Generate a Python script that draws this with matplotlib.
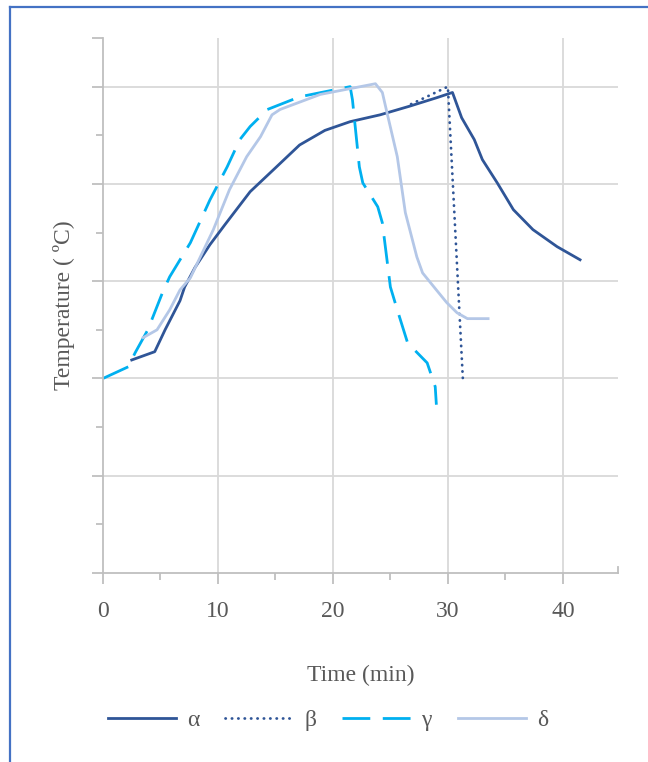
import matplotlib
matplotlib.use("Agg")
import matplotlib.pyplot as plt
from matplotlib.lines import Line2D

plt.rcParams['font.family'] = ['Liberation Serif', 'DejaVu Serif']

# time (min) / temperature (arbitrary units, no labels on y axis)
alpha_t = [2.5, 4.5, 5.4, 6.7, 7.1, 8.0, 9.3, 10.6, 12.8, 15.0, 17.1, 19.3, 21.5,
           24.1, 26.7, 29.0, 30.4, 31.2, 32.3, 33.0, 34.3, 35.7, 37.4, 39.5, 41.5]
alpha_y = [43.8, 45.5, 50.0, 56.0, 58.8, 62.8, 67.5, 71.6, 78.4, 83.3, 88.0, 91.0, 92.8,
           94.2, 96.0, 97.7, 98.8, 93.6, 89.1, 85.0, 80.2, 74.7, 70.6, 67.1, 64.4]

beta_t = [26.8, 28.5, 30.0, 31.3]
beta_y = [96.4, 98.3, 100.0, 40.1]

gamma_t = [0.0, 2.2, 2.8, 3.9, 5.2, 5.8, 7.6, 9.3, 10.8, 11.9, 12.8, 14.3, 17.1, 21.5,
           21.7, 22.3, 22.6, 23.9, 24.3, 25.0, 25.6, 26.5, 28.2, 28.9, 29.0]
gamma_y = [40.0, 42.4, 45.3, 50.0, 57.8, 60.9, 67.9, 76.7, 83.5, 89.1, 91.8, 95.3, 97.9, 100.0,
           97.3, 83.5, 80.2, 75.3, 72.0, 58.8, 54.1, 47.3, 43.2, 38.3, 34.6]

delta_t = [3.5, 4.7, 5.8, 6.7, 7.6, 9.6, 11.0, 12.5, 13.7, 14.7, 15.4, 18.9, 23.7,
           24.3, 24.7, 25.6, 26.3, 27.3, 27.8, 29.0, 29.9, 30.8, 31.7, 33.5]
delta_y = [48.4, 50.0, 54.1, 58.2, 60.7, 70.6, 78.8, 85.6, 89.7, 94.2, 95.3, 98.4, 100.6,
           98.8, 94.7, 85.6, 74.1, 65.0, 61.7, 58.2, 55.6, 53.5, 52.3, 52.3]

x_major = [0, 10, 20, 30, 40]
x_minor = [5, 15, 25, 35]
y_major = [0, 20, 40, 60, 80, 100, 110]
y_minor = [10, 30, 50, 70, 90]
x_max = 44.8
y_max = 110

dark = '#2F5597'
cyan = '#00B0F0'
light = '#B4C7E7'
grid_c = '#D9D9D9'
axis_c = '#BFBFBF'
text_c = '#595959'

fig = plt.figure(figsize=(6.48, 7.62), dpi=100)
ax = fig.add_axes([103 / 648, 1 - 573 / 762, (618 - 103) / 648, (573 - 38) / 762])

ax.plot(alpha_t, alpha_y, color=dark, lw=2.0, label='α', solid_joinstyle='round')
ax.plot(beta_t, beta_y, color=dark, lw=2.0, label='β', dashes=(0.1, 2.2),
        dash_capstyle='round')
ax.plot(gamma_t, gamma_y, color=cyan, lw=2.0, label='γ', dashes=(10, 4.5))
ax.plot(delta_t, delta_y, color=light, lw=2.0, label='δ', solid_joinstyle='round')

ax.set_xlim(0, x_max)
ax.set_ylim(0, y_max)
ax.set_xticks(x_major)
ax.set_xticks(x_minor, minor=True)
ax.set_yticks(y_major)
ax.set_yticks(y_minor, minor=True)
ax.tick_params(axis='x', which='major', length=8, width=1.3, color=axis_c,
               labelcolor=text_c, labelsize=17, pad=12)
ax.tick_params(axis='x', which='minor', length=5, width=1.3, color=axis_c)
ax.tick_params(axis='y', which='major', length=8, width=1.3, color=axis_c, labelleft=False)
ax.tick_params(axis='y', which='minor', length=5, width=1.3, color=axis_c)

ax.grid(True, which='major', color=grid_c, lw=1.3)
ax.set_axisbelow(True)
# no gridline on the axis line or on the top end tick
gl = ax.get_ygridlines()
gl[-1].set_visible(False)
gl[0].set_visible(False)
ax.get_xgridlines()[0].set_visible(False)

for s in ['top', 'right']:
    ax.spines[s].set_visible(False)
for s in ['left', 'bottom']:
    ax.spines[s].set_color(axis_c)
    ax.spines[s].set_linewidth(1.3)
ax.axvline(x_max, ymin=0, ymax=0.012, color=axis_c, lw=1.3, clip_on=False)

ax.set_xlabel('Time (min)', fontsize=17, color=text_c, labelpad=31)
ax.set_ylabel('Temperature ( ºC)', fontsize=17, color=text_c, labelpad=12)

fig.legend(loc='center', bbox_to_anchor=(328 / 648, 1 - 720 / 762), ncol=4,
           frameon=False, fontsize=17, handlelength=2.9, columnspacing=1.1,
           handletextpad=0.45, labelcolor=text_c)

# outer frame (top and left edges)
frame_c = '#4472C4'
fig.add_artist(Line2D([10 / 648, 1], [1 - 7 / 762, 1 - 7 / 762], color=frame_c, lw=1.6))
fig.add_artist(Line2D([10 / 648, 10 / 648], [0, 1 - 7 / 762], color=frame_c, lw=1.6))

fig.savefig('out.png', dpi=100)
